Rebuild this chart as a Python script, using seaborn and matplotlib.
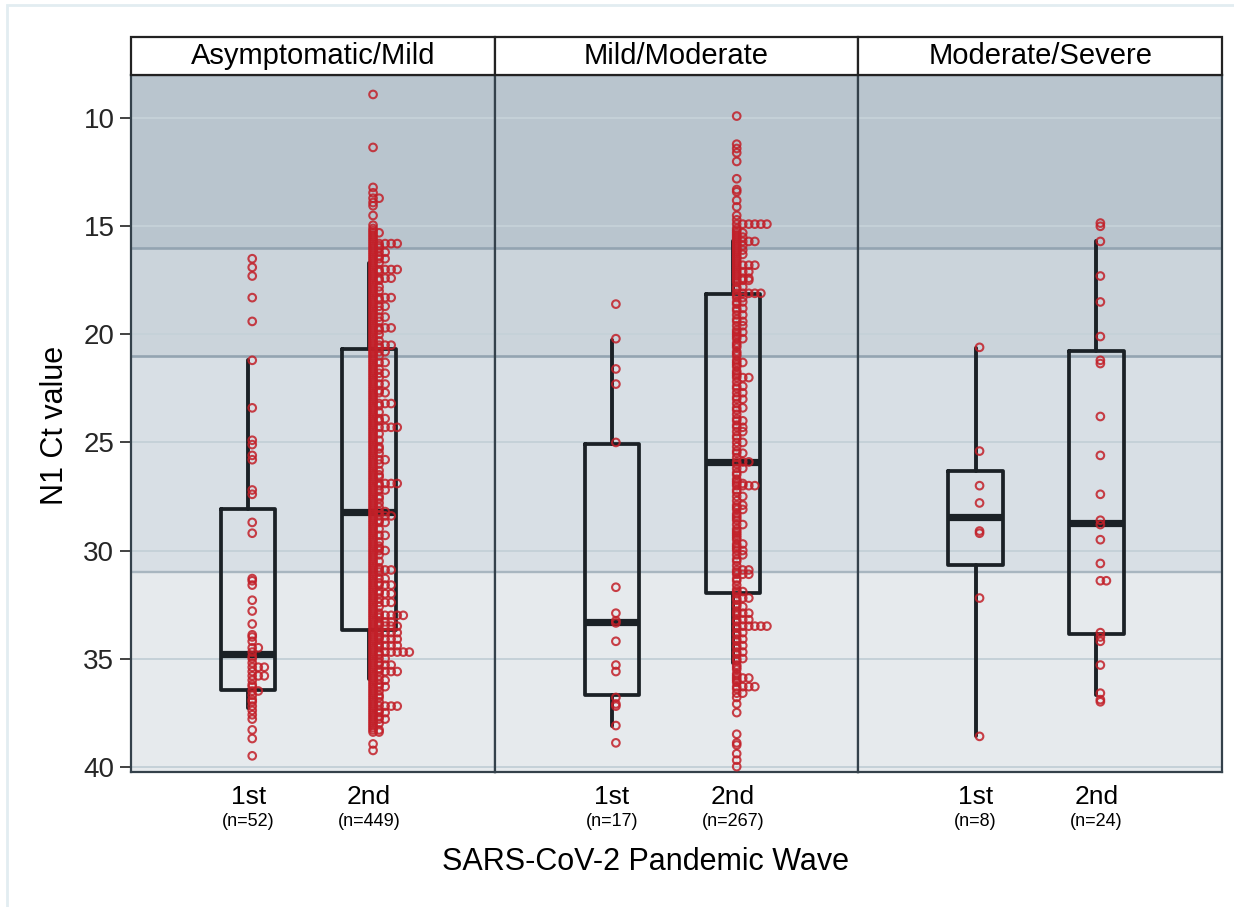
import numpy as np
import pandas as pd
import matplotlib
matplotlib.use("Agg")
import matplotlib.pyplot as plt
from matplotlib.patches import Rectangle
import seaborn as sns

# categories / labels
severities = ["Asymptomatic/Mild", "Mild/Moderate", "Moderate/Severe"]
waves = ["1st", "2nd"]
n_labels = [["(n=52)", "(n=449)"], ["(n=17)", "(n=267)"], ["(n=8)", "(n=24)"]]

# Ct values (ties stack to the right)
asym1_ct = [16.5, 16.9, 17.3, 18.3, 19.4, 21.2, 23.4, 24.9, 25.1, 25.6,
            25.8, 27.2, 27.4, 28.7, 29.2, 31.3, 31.4, 31.6, 32.3, 32.8,
            33.4, 33.9, 34.0, 34.2, 34.5, 34.5, 34.7, 34.9, 35.0, 35.2,
            35.4, 35.4, 35.4, 35.6, 35.8, 35.8, 35.8, 36.0, 36.2, 36.3,
            36.5, 36.5, 36.7, 36.9, 37.0, 37.2, 37.4, 37.6, 37.8, 38.3,
            38.7, 39.5]

asym2_top = [8.9, 11.35, 13.2, 13.45, 13.7, 13.7, 13.9, 14.05, 14.5, 14.95, 15.1]
asym2_vals = [15.2, 15.3, 15.4, 15.5, 15.6, 15.7, 15.8, 15.9,
              16.0, 16.1, 16.2, 16.3, 16.4, 16.5, 16.6, 16.7, 16.8, 16.9,
              17.0, 17.1, 17.2, 17.3, 17.4, 17.5, 17.6, 17.7, 17.8, 17.9,
              18.0, 18.1, 18.2, 18.3, 18.4, 18.5, 18.6, 18.7, 18.8, 18.9,
              19.0, 19.1, 19.2, 19.3, 19.4, 19.5, 19.6, 19.7, 19.8, 19.9,
              20.0, 20.1, 20.2, 20.3, 20.4, 20.5, 20.6, 20.7, 20.8, 20.9,
              21.0, 21.1, 21.2, 21.3, 21.4, 21.5, 21.6, 21.7, 21.8, 21.9,
              22.0, 22.1, 22.2, 22.3, 22.4, 22.5, 22.6, 22.7, 22.8, 22.9,
              23.0, 23.1, 23.2, 23.3, 23.4, 23.5, 23.6, 23.7, 23.8, 23.9,
              24.0, 24.1, 24.2, 24.3, 24.4, 24.5, 24.6, 24.7, 24.8, 24.9,
              25.0, 25.1, 25.2, 25.3, 25.4, 25.5, 25.6, 25.7, 25.8, 25.9,
              26.0, 26.1, 26.2, 26.3, 26.4, 26.5, 26.6, 26.7, 26.8, 26.9,
              27.0, 27.1, 27.2, 27.3, 27.4, 27.5, 27.6, 27.7, 27.8, 27.9,
              28.0, 28.1, 28.2, 28.3, 28.4, 28.5, 28.6, 28.7, 28.8, 28.9,
              29.0, 29.1, 29.2, 29.3, 29.4, 29.5, 29.6, 29.7, 29.8, 29.9,
              30.0, 30.1, 30.2, 30.3, 30.4, 30.5, 30.6, 30.7, 30.8, 30.9,
              31.0, 31.1, 31.2, 31.3, 31.4, 31.5, 31.6, 31.7, 31.8, 31.9,
              32.0, 32.1, 32.2, 32.3, 32.4, 32.5, 32.6, 32.7, 32.8, 32.9,
              33.0, 33.1, 33.2, 33.3, 33.4, 33.5, 33.6, 33.7, 33.8, 33.9,
              34.0, 34.1, 34.2, 34.3, 34.4, 34.5, 34.6, 34.7, 34.8, 34.9,
              35.0, 35.1, 35.2, 35.3, 35.4, 35.5, 35.6, 35.7, 35.8, 35.9,
              36.0, 36.1, 36.2, 36.3, 36.4, 36.5, 36.6, 36.7, 36.8, 36.9,
              37.0, 37.1, 37.2, 37.3, 37.4, 37.5, 37.6, 37.7, 37.8, 37.9,
              38.0, 38.1, 38.2, 38.3, 38.4]
asym2_counts = [1, 2, 1, 1, 1, 1, 5, 2,
                2, 1, 3, 1, 2, 3, 1, 2, 1, 1,
                5, 2, 1, 1, 4, 2, 1, 1, 2, 1,
                2, 1, 1, 4, 2, 1, 1, 3, 1, 2,
                1, 1, 3, 1, 2, 1, 1, 4, 2, 1,
                2, 1, 1, 2, 1, 4, 2, 1, 3, 1,
                2, 1, 1, 3, 1, 1, 2, 1, 3, 1,
                2, 1, 1, 3, 1, 1, 2, 3, 1, 1,
                1, 1, 4, 2, 1, 1, 2, 1, 1, 3,
                2, 1, 1, 5, 1, 1, 2, 1, 1, 2,
                1, 1, 2, 2, 1, 2, 1, 1, 3, 1,
                2, 1, 1, 2, 1, 2, 2, 1, 1, 5,
                2, 1, 3, 1, 1, 2, 2, 1, 2, 1,
                2, 1, 3, 1, 4, 1, 2, 3, 1, 1,
                2, 1, 1, 3, 1, 1, 2, 1, 2, 2,
                3, 1, 2, 1, 1, 2, 1, 1, 2, 4,
                2, 1, 1, 3, 1, 2, 4, 1, 1, 2,
                4, 1, 2, 1, 4, 1, 2, 1, 1, 2,
                6, 2, 1, 4, 2, 5, 1, 2, 5, 2,
                2, 5, 1, 2, 5, 2, 1, 7, 2, 1,
                3, 1, 2, 4, 1, 2, 5, 1, 2, 1,
                3, 1, 2, 3, 1, 2, 1, 2, 2, 1,
                2, 1, 5, 1, 2, 3, 1, 2, 3, 1,
                2, 1, 1, 2, 2]
asym2_bottom = [38.95, 39.25]

mild1_ct = [18.6, 20.2, 21.6, 22.3, 25.0, 31.7, 32.9, 33.25, 33.35, 34.2,
            35.3, 35.6, 36.8, 37.1, 37.2, 38.1, 38.9]

mild2_top = [9.9, 11.2, 11.4, 11.6, 12.0, 12.8, 13.3, 13.4, 13.8, 14.1, 14.5, 14.7]
mild2_vals = [14.9,
              15.1, 15.2, 15.3, 15.4, 15.5, 15.6, 15.7, 15.8, 15.9,
              16.0, 16.1, 16.2, 16.3, 16.4, 16.5, 16.6, 16.7, 16.8, 16.9,
              17.0, 17.1, 17.2, 17.3, 17.4, 17.5, 17.6, 17.8, 17.9,
              18.1, 18.2, 18.3, 18.5, 18.6, 18.8, 18.9,
              19.1, 19.3, 19.4, 19.6, 19.8, 19.9,
              20.0, 20.1, 20.2, 20.4, 20.5, 20.6, 20.8, 20.9,
              21.0, 21.2, 21.3, 21.4, 21.5, 21.7, 21.8, 21.9,
              22.0, 22.2, 22.4, 22.5, 22.7, 22.9,
              23.0, 23.2, 23.4, 23.5, 23.7, 23.9,
              24.0, 24.2, 24.3, 24.5, 24.7, 24.8,
              25.0, 25.2, 25.4, 25.5, 25.7, 25.9,
              26.0, 26.2, 26.4, 26.5, 26.7, 26.8, 26.9,
              27.0, 27.2, 27.3, 27.5, 27.7, 27.9,
              28.0, 28.1, 28.3, 28.4, 28.5, 28.6, 28.8,
              29.0, 29.1, 29.2, 29.3, 29.4, 29.5, 29.7, 29.8, 29.9,
              30.0, 30.2, 30.4, 30.5, 30.7, 30.9,
              31.0, 31.1, 31.3, 31.4, 31.6, 31.8, 31.9,
              32.0, 32.2, 32.3, 32.5, 32.6, 32.8, 32.9,
              33.0, 33.2, 33.3, 33.5, 33.6, 33.8, 33.9,
              34.1, 34.2, 34.4, 34.5, 34.7, 34.8,
              35.0, 35.1, 35.3, 35.4, 35.5, 35.7, 35.8, 35.9,
              36.0, 36.1, 36.3, 36.4, 36.6, 36.8,
              37.1]
mild2_counts = [6,
                1, 1, 2, 1, 2, 1, 4, 1, 2,
                1, 2, 1, 2, 1, 1, 1, 1, 4, 1,
                1, 3, 1, 1, 3, 3, 1, 2, 1,
                5, 1, 2, 2, 1, 2, 1,
                2, 1, 2, 2, 1, 2,
                1, 1, 2, 1, 1, 1, 1, 1,
                1, 1, 2, 1, 1, 1, 1, 1,
                3, 1, 2, 1, 2, 1,
                2, 1, 2, 1, 1, 1,
                2, 1, 2, 2, 1, 1,
                2, 1, 1, 2, 1, 3,
                1, 2, 1, 1, 1, 1, 2,
                4, 1, 1, 2, 1, 2,
                1, 2, 1, 1, 1, 1, 2,
                1, 1, 1, 1, 1, 1, 2, 1, 1,
                2, 2, 1, 1, 1, 3,
                1, 3, 1, 1, 1, 1, 2,
                1, 3, 1, 1, 2, 1, 3,
                1, 3, 1, 6, 1, 2, 1,
                2, 1, 2, 1, 2, 1,
                2, 1, 1, 1, 1, 1, 1, 3,
                1, 1, 4, 1, 2, 1,
                1]
mild2_bottom = [37.5, 38.5, 38.9, 39.0, 39.4, 39.7, 40.0]

mod1_ct = [20.6, 25.4, 27.0, 27.8, 29.1, 29.2, 32.2, 38.6]
mod2_ct = [14.85, 15.0, 15.7, 17.3, 18.5, 20.1, 21.2, 21.35, 23.8, 25.6,
           27.4, 28.6, 28.8, 29.5, 30.6, 31.4, 31.4, 33.8, 34.0, 34.2,
           35.3, 36.6, 36.9, 37.0]

# box statistics as drawn: whisker low, q1, median, q3, whisker high
asym1_box = [21.2, 28.1, 34.8, 36.45, 37.3]
asym2_box = [16.7, 20.7, 28.2, 33.7, 35.95]
mild1_box = [20.25, 25.05, 33.3, 36.7, 38.1]
mild2_box = [15.7, 18.15, 25.9, 31.95, 35.2]
mod1_box = [20.65, 26.3, 28.45, 30.65, 38.6]
mod2_box = [15.7, 20.75, 28.75, 33.85, 36.7]

# background bands (Ct ranges)
band_edges = [8, 16, 21, 31, 40.25]
band_colors = ["#b9c5ce", "#cbd4db", "#d8dfe5", "#e6eaed"]

asym2_ct = asym2_top + np.repeat(asym2_vals, asym2_counts).tolist() + asym2_bottom
mild2_ct = mild2_top + np.repeat(mild2_vals, mild2_counts).tolist() + mild2_bottom

groups = {
    ("Asymptomatic/Mild", "1st"): asym1_ct,
    ("Asymptomatic/Mild", "2nd"): asym2_ct,
    ("Mild/Moderate", "1st"): mild1_ct,
    ("Mild/Moderate", "2nd"): mild2_ct,
    ("Moderate/Severe", "1st"): mod1_ct,
    ("Moderate/Severe", "2nd"): mod2_ct,
}
boxes = {
    "Asymptomatic/Mild": [asym1_box, asym2_box],
    "Mild/Moderate": [mild1_box, mild2_box],
    "Moderate/Severe": [mod1_box, mod2_box],
}

rows = []
for (sev, wave), vals in groups.items():
    for v in vals:
        rows.append({"severity": sev, "wave": wave, "ct": float(v)})
df = pd.DataFrame(rows)
df["tie"] = df.groupby(["severity", "wave", "ct"]).cumcount()
df["x"] = df["wave"].map({"1st": 0, "2nd": 1}) + 0.033 + 0.05 * df["tie"]

sns.set_theme(style="white")
plt.rcParams["font.family"] = ["Liberation Sans", "DejaVu Sans"]

fig, axes = plt.subplots(1, 3, figsize=(12.34, 9.07), dpi=100, sharey=True)
fig.subplots_adjust(left=0.1062, right=0.9903, top=0.9173, bottom=0.1488, wspace=0)

strip_h = 38 / 697
box_color = "#1b2126"
pt_color = "#c21f28"

for i, (ax, sev) in enumerate(zip(axes, severities)):
    # shaded Ct bands
    for lo, hi, col in zip(band_edges[:-1], band_edges[1:], band_colors):
        ax.axhspan(lo, hi, color=col, zorder=0, lw=0)
    for t in [10, 15, 20, 25, 30, 35, 40]:
        ax.axhline(t, color="#c5d1d8", lw=1.4, zorder=0.5)
    ax.axhline(16, color="#93a4b1", lw=1.9, zorder=0.6)
    ax.axhline(21, color="#93a4b1", lw=1.9, zorder=0.6)
    ax.axhline(31, color="#a8b6c0", lw=1.7, zorder=0.6)

    stats = []
    for b in boxes[sev]:
        stats.append(dict(whislo=b[0], q1=b[1], med=b[2], q3=b[3], whishi=b[4], fliers=[]))
    ax.bxp(stats, positions=[0, 1], widths=0.45, showcaps=False, showfliers=False,
           boxprops=dict(color=box_color, lw=2.7),
           whiskerprops=dict(color=box_color, lw=2.8),
           medianprops=dict(color=box_color, lw=5.2, solid_capstyle="butt"),
           manage_ticks=False, zorder=3)

    sub = df[df["severity"] == sev]
    sns.scatterplot(data=sub, x="x", y="ct", ax=ax, marker="o", s=30,
                    facecolor="none", edgecolor=pt_color, linewidth=1.5,
                    alpha=0.85, zorder=4, legend=False)

    ax.set_xlim(-0.97, 2.04)
    ax.set_ylim(40.25, 8.0)
    ax.set_xticks([])
    ax.set_xlabel("")
    ax.set_ylabel("")
    for sp in ax.spines.values():
        sp.set_visible(True)
        sp.set_color("#34414b")
        sp.set_linewidth(1.6)

    # strip title
    ax.add_patch(Rectangle((0, 1), 1, strip_h, transform=ax.transAxes, clip_on=False,
                           facecolor="white", edgecolor="#222222", lw=1.6, zorder=5))
    ax.text(0.5, 1 + strip_h / 2, sev, transform=ax.transAxes, ha="center",
            va="center", fontsize=21, color="black", zorder=6)

    # wave labels with n
    trans = ax.get_xaxis_transform()
    for j, w in enumerate(waves):
        ax.text(j, -0.036, w, transform=trans, ha="center", va="center",
                fontsize=19, color="black")
        ax.text(j, -0.071, n_labels[i][j], transform=trans, ha="center",
                va="center", fontsize=13, color="black")

axes[0].set_yticks([10, 15, 20, 25, 30, 35, 40])
axes[0].tick_params(axis="y", left=True, length=8, width=1.2, color="#222222",
                    labelsize=20, pad=4)
for ax in axes[1:]:
    ax.tick_params(axis="y", left=False, labelleft=False)

fig.text(55 / 1234, 0.5314, "N1 Ct value", rotation=90, ha="center", va="center",
         fontsize=22, color="black")
fig.text(0.5235, 0.0496, "SARS-CoV-2 Pandemic Wave", ha="center", va="center",
         fontsize=22, color="black")

# faint outer frame along the top and left edges
fig.add_artist(Rectangle((0.006, -0.05), 1.1, 1.0445, transform=fig.transFigure,
                         fill=False, edgecolor="#e2edf1", lw=2, zorder=0))

fig.savefig("out.png", dpi=100, facecolor="white")
